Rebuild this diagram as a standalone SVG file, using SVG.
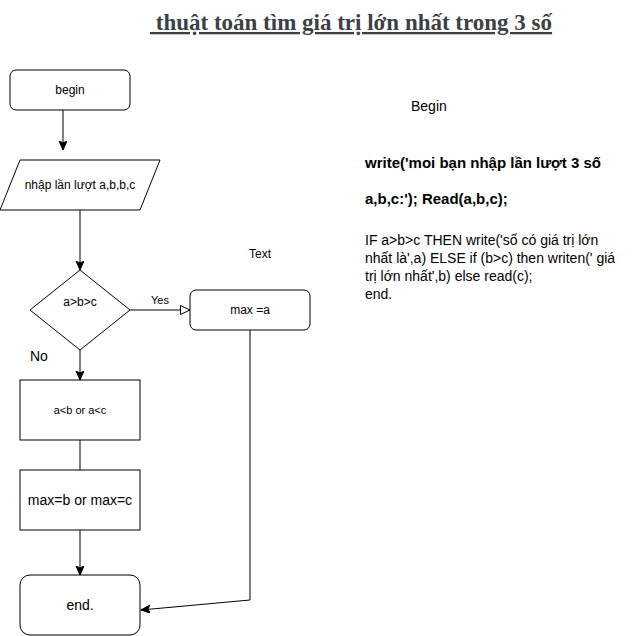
<svg xmlns="http://www.w3.org/2000/svg" width="641" height="636" viewBox="0 0 641 636">
<defs>
<style>
.shape{fill:#ffffff;stroke:#000000;stroke-width:1}
.conn{fill:none;stroke:#000000;stroke-width:1}
.lbl{font-family:"Liberation Sans",Arial,sans-serif;font-size:12px;fill:#000000;text-anchor:middle}
.big{font-family:"Liberation Sans",Arial,sans-serif;font-size:14px;fill:#000000}
.bold{font-family:"Liberation Sans",Arial,sans-serif;font-size:15px;font-weight:bold;fill:#000000}
.title{font-family:"Liberation Serif","Times New Roman",serif;font-size:23px;font-weight:bold;fill:#3b4046;text-decoration:underline}
</style>
<marker id="arrow" markerUnits="userSpaceOnUse" markerWidth="10" markerHeight="10" refX="9" refY="4" orient="auto">
<path d="M0,0 L9,4 L0,8 L2,4 Z" fill="#000000" stroke="#000000" stroke-width="1"/>
</marker>
<marker id="open" markerUnits="userSpaceOnUse" markerWidth="12" markerHeight="12" refX="10" refY="5" orient="auto">
<path d="M0.5,0.5 L10,5 L0.5,9.5 Z" fill="#ffffff" stroke="#000000" stroke-width="1"/>
</marker>
</defs>
<rect width="641" height="636" fill="#ffffff"/>
<text id="title" class="title" x="150" y="30" xml:space="preserve"> thuật toán tìm giá trị lớn nhất trong 3 số</text>
<g id="connectors">
<path class="conn" d="M63,110 L63,150" marker-end="url(#arrow)"/>
<path class="conn" d="M80,210 L80,270" marker-end="url(#arrow)"/>
<path class="conn" d="M130,310 L190,310" marker-end="url(#open)"/>
<path class="conn" d="M80,350 L80,380" marker-end="url(#arrow)"/>
<path class="conn" d="M80,440 L80,470"/>
<path class="conn" d="M80,530 L80,575" marker-end="url(#arrow)"/>
<path class="conn" d="M250,330 L250,600 L141,610" marker-end="url(#arrow)"/>
<text class="lbl" x="160" y="304" style="font-size:11px">Yes</text>
<text class="big" x="30" y="361">No</text>
</g>
<g id="begin">
<rect class="shape" x="10" y="70" width="120" height="40" rx="6"/>
<text class="lbl" x="70" y="94">begin</text>
</g>
<g id="input">
<polygon class="shape" points="20,160 160,160 140,210 0,210"/>
<text class="lbl" x="80" y="189">nhập lần lượt a,b,b,c</text>
</g>
<g id="decision">
<polygon class="shape" points="80,270 130,310 80,350 30,310"/>
<text class="lbl" x="80" y="306">a&gt;b&gt;c</text>
</g>
<g id="maxa">
<rect class="shape" x="190" y="290" width="120" height="40" rx="6"/>
<text class="lbl" x="250" y="314">max =a</text>
</g>
<g id="textlabel">
<text class="lbl" x="260" y="258">Text</text>
</g>
<g id="cond2">
<rect class="shape" x="20" y="380" width="120" height="60"/>
<text class="lbl" x="80" y="414" style="font-size:11px">a&lt;b or a&lt;c</text>
</g>
<g id="maxbc">
<rect class="shape" x="20" y="470" width="120" height="60"/>
<text class="lbl" x="80" y="505" style="font-size:14px">max=b or max=c</text>
</g>
<g id="end">
<rect class="shape" x="20" y="575" width="120" height="60" rx="10"/>
<text class="lbl" x="80" y="610" style="font-size:14px">end.</text>
</g>
<g id="code">
<text class="big" x="411" y="111">Begin</text>
<text class="bold" x="365" y="168">write('moi bạn nhập lần lượt 3 số</text>
<text class="bold" x="365" y="204">a,b,c:'); Read(a,b,c);</text>
<text class="big" x="365" y="245">IF a&gt;b&gt;c THEN write('số có giá trị lớn</text>
<text class="big" x="365" y="263">nhất là',a) ELSE if (b&gt;c) then writen(' giá</text>
<text class="big" x="365" y="281">trị lớn nhất',b) else read(c);</text>
<text class="big" x="365" y="299">end.</text>
</g>
</svg>
